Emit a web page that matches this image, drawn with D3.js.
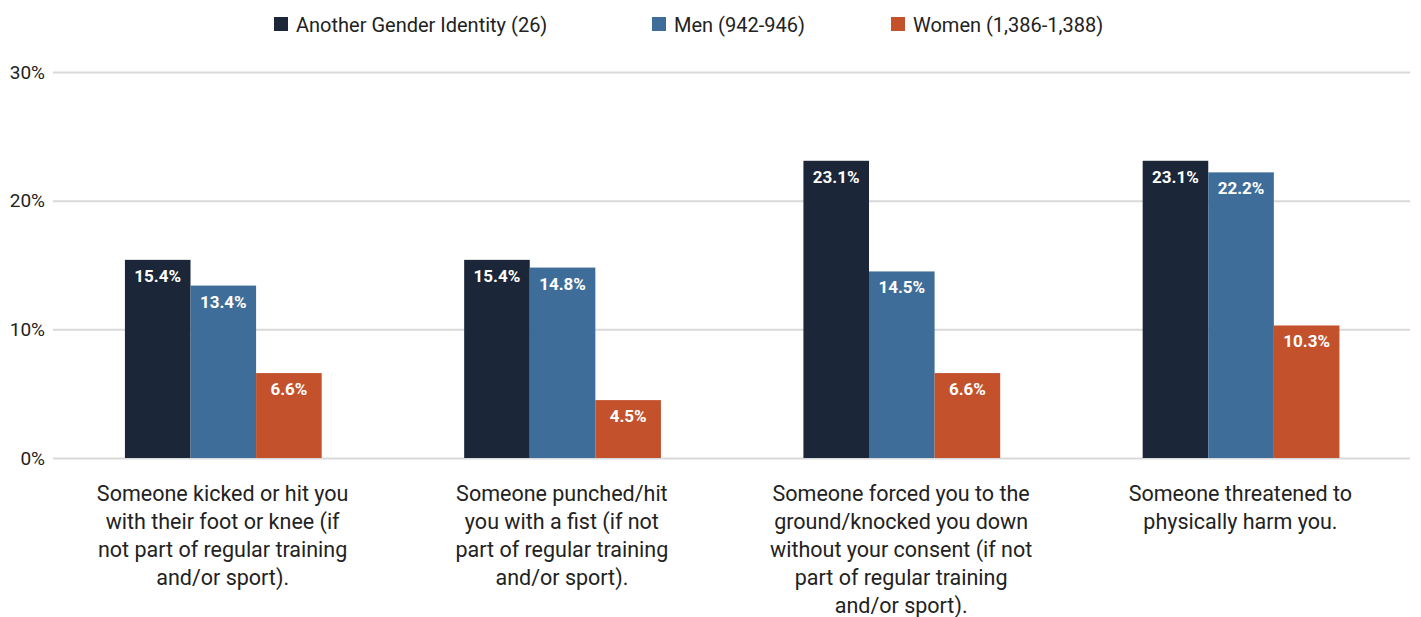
<!DOCTYPE html>
<html>
<head>
<meta charset="utf-8">
<script src="https://cdn.jsdelivr.net/npm/d3@7"></script>
<style>
  body { margin: 0; background: #fff; }
  text { font-family: Roboto, "DejaVu Sans", sans-serif; fill: #222; }
</style>
</head>
<body>
<div id="chart"></div>
<script>
// categories, one array of wrapped lines per group
const categories = [
  ["Someone kicked or hit you", "with their foot or knee (if", "not part of regular training", "and/or sport)."],
  ["Someone punched/hit", "you with a fist (if not", "part of regular training", "and/or sport)."],
  ["Someone forced you to the", "ground/knocked you down", "without your consent (if not", "part of regular training", "and/or sport)."],
  ["Someone threatened to", "physically harm you."]
];
const seriesNames = ["Another Gender Identity (26)", "Men (942-946)", "Women (1,386-1,388)"];
const anotherValues = [15.4, 15.4, 23.1, 23.1];
const menValues = [13.4, 14.8, 14.5, 22.2];
const womenValues = [6.6, 4.5, 6.6, 10.3];
const yTicks = [0, 10, 20, 30];

const colors = ["#1b2638", "#3f6d99", "#c2512c"];
const allValues = [anotherValues, menValues, womenValues];

const W = 1421, H = 617;
const margin = {top: 72, right: 11, bottom: 159, left: 53};
const width = W - margin.left - margin.right,
      height = H - margin.top - margin.bottom;

const svg = d3.select("#chart").append("svg")
    .attr("width", W)
    .attr("height", H);
const g = svg.append("g")
    .attr("transform", "translate(" + margin.left + "," + margin.top + ")");

const keys = categories.map((c, i) => i);
const x = d3.scaleBand().domain(keys).range([0, width]).padding(0);
const x1 = d3.scaleBand().domain([0, 1, 2])
    .range([x.bandwidth() * 0.212, x.bandwidth() * 0.792]);
const y = d3.scaleLinear().domain([0, 30]).range([height, 0]);

// gridlines + y labels
const yAxis = g.append("g")
    .call(d3.axisLeft(y).tickValues(yTicks).tickSize(-width).tickFormat(d => d + "%"));
yAxis.select(".domain").remove();
yAxis.selectAll(".tick line").attr("stroke", "#d9d9d9").attr("stroke-width", 2);
yAxis.selectAll(".tick text")
    .attr("x", -8)
    .style("font-size", "19px")
    .style("fill", "#222");

// bars
const groups = g.append("g").selectAll("g")
  .data(keys)
  .enter().append("g")
    .attr("transform", d => "translate(" + x(d) + ",0)");

const cells = groups.selectAll("g")
  .data(i => allValues.map((vals, s) => ({s: s, v: vals[i]})))
  .enter().append("g");

cells.append("rect")
    .attr("x", d => x1(d.s))
    .attr("y", d => y(d.v))
    .attr("width", x1.bandwidth())
    .attr("height", d => height - y(d.v))
    .attr("fill", d => colors[d.s]);

cells.append("text")
    .attr("x", d => x1(d.s) + x1.bandwidth() / 2)
    .attr("y", d => y(d.v) + 22)
    .attr("text-anchor", "middle")
    .style("font-size", "17px")
    .style("font-weight", "bold")
    .style("fill", "#fff")
    .text(d => d.v.toFixed(1) + "%");

// category labels
const labels = g.append("g").selectAll("text")
  .data(keys)
  .enter().append("text")
    .attr("text-anchor", "middle")
    .attr("transform", d => "translate(" + (x(d) + x.bandwidth() / 2) + "," + (height + 43) + ")")
    .style("font-size", "21.5px");
labels.selectAll("tspan")
  .data(d => categories[d])
  .enter().append("tspan")
    .attr("x", 0)
    .attr("y", (d, i) => i * 28)
    .text(d => d);

// legend
const legendX = [274, 652, 891];
const legend = svg.append("g").selectAll("g")
  .data(seriesNames)
  .enter().append("g")
    .attr("transform", (d, i) => "translate(" + legendX[i] + ",17)");
legend.append("rect")
    .attr("width", 14).attr("height", 14)
    .attr("fill", (d, i) => colors[i]);
legend.append("text")
    .attr("x", 22).attr("y", 15)
    .style("font-size", "20px")
    .text(d => d);
</script>
</body>
</html>
